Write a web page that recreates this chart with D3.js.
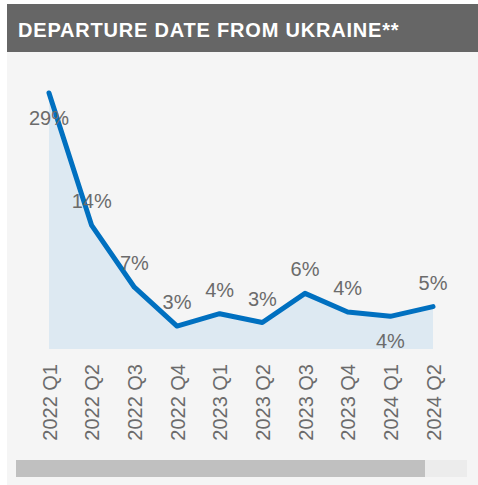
<!DOCTYPE html>
<html>
<head>
<meta charset="utf-8">
<script src="https://cdn.jsdelivr.net/npm/d3@7"></script>
<style>
  body { margin: 0; background: #fff; }
  text { font-family: "Liberation Sans", Arial, sans-serif; }
</style>
</head>
<body>
<div id="app"></div>
<script>
// quarters and share of departures (%)
var quarters = ["2022 Q1", "2022 Q2", "2022 Q3", "2022 Q4", "2023 Q1",
  "2023 Q2", "2023 Q3", "2023 Q4", "2024 Q1", "2024 Q2"];
var shares = [29, 14, 7, 2.6, 4, 3, 6.3, 4.2, 3.7, 4.8];
var labelSide = ["below", "above", "above", "above", "above",
  "above", "above", "above", "below", "above"];

var width = 478,
  height = 485;

var svg = d3.select("#app")
  .append("svg")
  .attr("width", width)
  .attr("height", height);

// panel + header
svg.append("rect")
  .attr("x", 7).attr("y", 52)
  .attr("width", width - 7).attr("height", height - 52)
  .attr("fill", "#f5f5f5");

svg.append("rect")
  .attr("x", 7).attr("y", 4)
  .attr("width", width - 7).attr("height", 48)
  .attr("fill", "#666666");

svg.append("text")
  .attr("x", 18).attr("y", 37)
  .attr("fill", "#fff")
  .attr("font-size", 20)
  .attr("font-weight", "bold")
  .attr("letter-spacing", 0.8)
  .text("DEPARTURE DATE FROM UKRAINE**");

var x = d3.scalePoint()
  .domain(quarters)
  .range([49, 433]);

var y = d3.scaleLinear()
  .domain([0, 29])
  .range([349, 93]);

var data = quarters.map((q, i) => ({ q: q, v: shares[i], side: labelSide[i] }));

// area under the line
var area = d3.area()
  .x(d => x(d.q))
  .y0(y(0))
  .y1(d => y(d.v));

svg.append("path")
  .datum(data)
  .attr("d", area)
  .attr("fill", "#dde9f2");

var line = d3.line()
  .x(d => x(d.q))
  .y(d => y(d.v));

svg.append("path")
  .datum(data)
  .attr("d", line)
  .attr("fill", "none")
  .attr("stroke", "#0070c0")
  .attr("stroke-width", 5)
  .attr("stroke-linejoin", "round")
  .attr("stroke-linecap", "round");

// value labels
svg.selectAll(".lbl")
  .data(data)
  .enter().append("text")
  .attr("class", "lbl")
  .attr("x", d => x(d.q))
  .attr("y", d => d.side === "above" ? y(d.v) - 17 : y(d.v) + 32)
  .attr("text-anchor", "middle")
  .attr("font-size", 20)
  .attr("fill", "#6b6b6b")
  .text(d => Math.round(d.v) + "%");

// x axis labels (rotated)
var xAxis = svg.append("g")
  .attr("transform", "translate(0,364)")
  .call(d3.axisBottom(x).tickSize(0).tickPadding(0));

xAxis.select(".domain").remove();
xAxis.selectAll("text")
  .attr("font-size", 20)
  .attr("fill", "#6b6b6b")
  .attr("font-family", "Liberation Sans, Arial, sans-serif")
  .attr("text-anchor", "end")
  .attr("dy", null)
  .attr("y", 0)
  .attr("transform", "rotate(-90) translate(0,7)");

// scrollbar
svg.append("rect")
  .attr("x", 16).attr("y", 460)
  .attr("width", 451).attr("height", 17)
  .attr("fill", "#ececec");

svg.append("rect")
  .attr("x", 16).attr("y", 460)
  .attr("width", 409).attr("height", 17)
  .attr("fill", "#c0c0c0");
</script>
</body>
</html>
